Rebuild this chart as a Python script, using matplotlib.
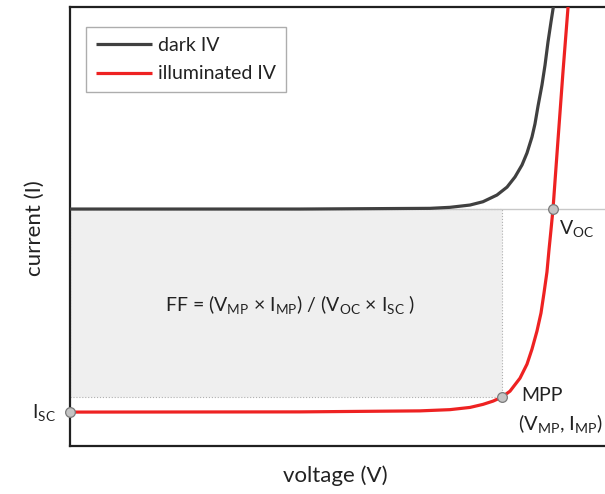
import matplotlib
matplotlib.use("Agg")
import matplotlib.pyplot as plt
import matplotlib.patches as patches

plt.rcParams['font.family'] = ['Lato', 'DejaVu Sans']
plt.rcParams['mathtext.default'] = 'regular'

# dark IV curve (V in volts, I normalised to Isc)
dark_v = [0.0, 0.286, 0.4472, 0.4720, 0.4969, 0.5130, 0.5304, 0.5429, 0.5528,
          0.5615, 0.5677, 0.5739, 0.5776, 0.5814, 0.5863, 0.5901, 0.5938,
          0.5975, 0.6012, 0.6037]
dark_i = [0.0, 0.0, 0.0034, 0.0084, 0.0197, 0.036, 0.069, 0.108, 0.158,
          0.217, 0.276, 0.355, 0.419, 0.507, 0.611, 0.709, 0.823,
          0.921, 1.015, 1.103]

# illuminated IV curve
light_v = [0.0, 0.2857, 0.4348, 0.4720, 0.4969, 0.5130, 0.5255, 0.5366, 0.5466,
           0.5590, 0.5677, 0.5739, 0.5801, 0.5851, 0.5888, 0.5925, 0.5950,
           0.5975, 0.6000, 0.6062, 0.6124, 0.6186, 0.6211]
light_i = [-1.0, -0.999, -0.994, -0.988, -0.977, -0.962, -0.946, -0.926, -0.897,
           -0.833, -0.764, -0.690, -0.601, -0.512, -0.414, -0.310, -0.202,
           -0.103, 0.0, 0.340, 0.675, 0.990, 1.13]

v_oc = 0.600
i_sc = -1.0
v_mp = 0.5366
i_mp = -0.926

x_max = 0.6646
y_min, y_max = -1.167, 0.995


def main():
    fig = plt.figure(figsize=(6.05, 4.94), dpi=100)
    ax = fig.add_axes([70 / 605, (494 - 446) / 494, 535 / 605, (446 - 7) / 494])

    # fill factor box
    ax.add_patch(patches.Rectangle((0, i_mp), v_mp, -i_mp, facecolor='#efefef',
                                   edgecolor='#b0b0b0', linestyle=':', lw=0.8, zorder=1))
    ax.axhline(0, color='#c8c8c8', lw=1.0, zorder=2)

    ax.plot(dark_v, dark_i, color='#404040', lw=2.3, label='dark IV', zorder=3,
            solid_joinstyle='round', solid_capstyle='butt')
    ax.plot(light_v, light_i, color='#ee2222', lw=2.3, label='illuminated IV', zorder=4,
            solid_joinstyle='round', solid_capstyle='butt')

    pts_v = [0, v_mp, v_oc]
    pts_i = [i_sc, i_mp, 0]
    ax.plot(pts_v, pts_i, 'o', ms=7, mfc='#c4c4c4', mec='#7a7a7a', mew=0.9,
            zorder=5, clip_on=False)

    ax.set_xlim(0, x_max)
    ax.set_ylim(y_min, y_max)
    ax.set_xticks([])
    ax.set_yticks([])
    ax.spines['right'].set_visible(False)
    for s in ['left', 'top', 'bottom']:
        ax.spines[s].set_linewidth(1.6)
        ax.spines[s].set_color('#202020')

    tc = '#222222'
    ax.text(v_oc + 0.008, -0.045, 'V$_{OC}$', fontsize=14, color=tc, va='top', ha='left')
    ax.text(v_mp + 0.024, i_mp + 0.01, 'MPP', fontsize=14, color=tc, va='center', ha='left')
    ax.text(v_mp + 0.020, i_mp - 0.13, '(V$_{MP}$, I$_{MP}$)', fontsize=14.5, color=tc,
            va='center', ha='left', clip_on=False)
    ax.text(-0.018, i_sc, 'I$_{SC}$', fontsize=14, color=tc, va='center', ha='right')
    ax.text(0.273, -0.47, 'FF = (V$_{MP}$ × I$_{MP}$) / (V$_{OC}$ × I$_{SC}$ )',
            fontsize=14, color=tc, va='center', ha='center')

    fig.text(335 / 605, 1 - 476 / 494, 'voltage (V)', fontsize=16, color=tc,
             ha='center', va='center')
    fig.text(35 / 605, 1 - 228 / 494, 'current (I)', fontsize=16, color=tc,
             ha='center', va='center', rotation=90)

    leg = ax.legend(loc='upper left', bbox_to_anchor=(16 / 535, 1 - 20 / 439),
                    fontsize=14, frameon=True, fancybox=False, handlelength=2.9,
                    borderpad=0.5, labelspacing=0.6, handletextpad=0.3,
                    borderaxespad=0)
    leg.get_frame().set_edgecolor('#999999')
    leg.get_frame().set_linewidth(1.0)
    for t in leg.get_texts():
        t.set_color(tc)

    fig.savefig('out.png', dpi=100)


if __name__ == "__main__":
    main()
